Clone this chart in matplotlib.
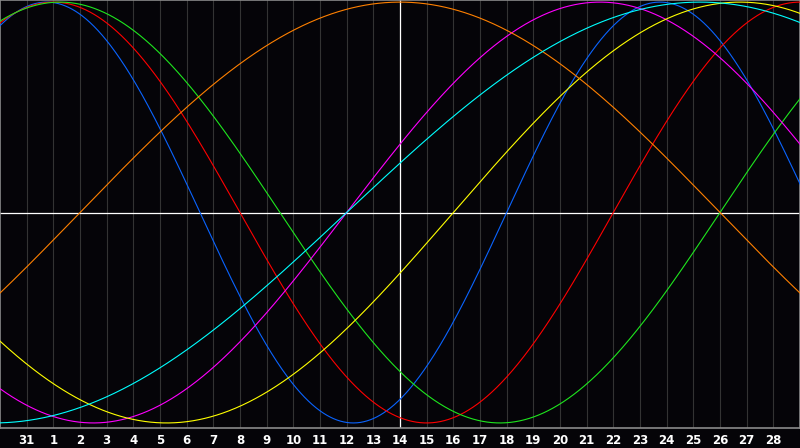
import numpy as np
import matplotlib
matplotlib.use("Agg")
import matplotlib.pyplot as plt

# Day labels at grid positions 1..29 (position 0 = previous month's 30th)
day_labels = ["31"] + [str(d) for d in range(1, 29)]

# Biorhythm cycles: period (days) and the day position of the upward zero crossing
cycle_names = ["physical", "emotional", "intellectual", "intuitive", "aesthetic", "awareness", "spiritual"]
cycle_periods = [23, 28, 33, 38, 43, 48, 53]
cycle_upcross = [19.0, 23.0, 27.0, 13.0, 17.0, 3.0, 13.0]
cycle_colors = ["#0a64ff", "#ff0000", "#1ee61e", "#ff00ff", "#ffff00", "#ff8000", "#00ffff"]

today_pos = 15
n_days = 30

fig = plt.figure(figsize=(8, 4.48), dpi=100)
fig.patch.set_facecolor("#050408")
ax = fig.add_axes([0, 20 / 448, 1, 428 / 448])
ax.set_facecolor("#050408")

for p in range(1, n_days):
    ax.axvline(p, color="#333333", lw=0.8, zorder=1)

x = np.linspace(0, n_days, 1200)
for per, up, col in zip(cycle_periods, cycle_upcross, cycle_colors):
    y = np.sin(2 * np.pi * (x - up) / per)
    ax.plot(x, y, color=col, lw=0.8, zorder=3)

ax.axhline(0, color="white", lw=0.9, zorder=2)
ax.axvline(today_pos, color="white", lw=0.9, zorder=2)

ax.set_xlim(0, n_days)
ax.set_ylim(-1.024, 1.01)
ax.set_xticks(range(1, n_days))
ax.set_xticklabels(day_labels, color="white", fontsize=8.5, fontweight="bold", family="DejaVu Sans")
ax.tick_params(axis="x", length=0, pad=4)
ax.set_yticks([])
for s in ax.spines.values():
    s.set_color("#8a8a8a")
    s.set_linewidth(1.2)

fig.savefig("out.png", dpi=100, facecolor=fig.get_facecolor())
